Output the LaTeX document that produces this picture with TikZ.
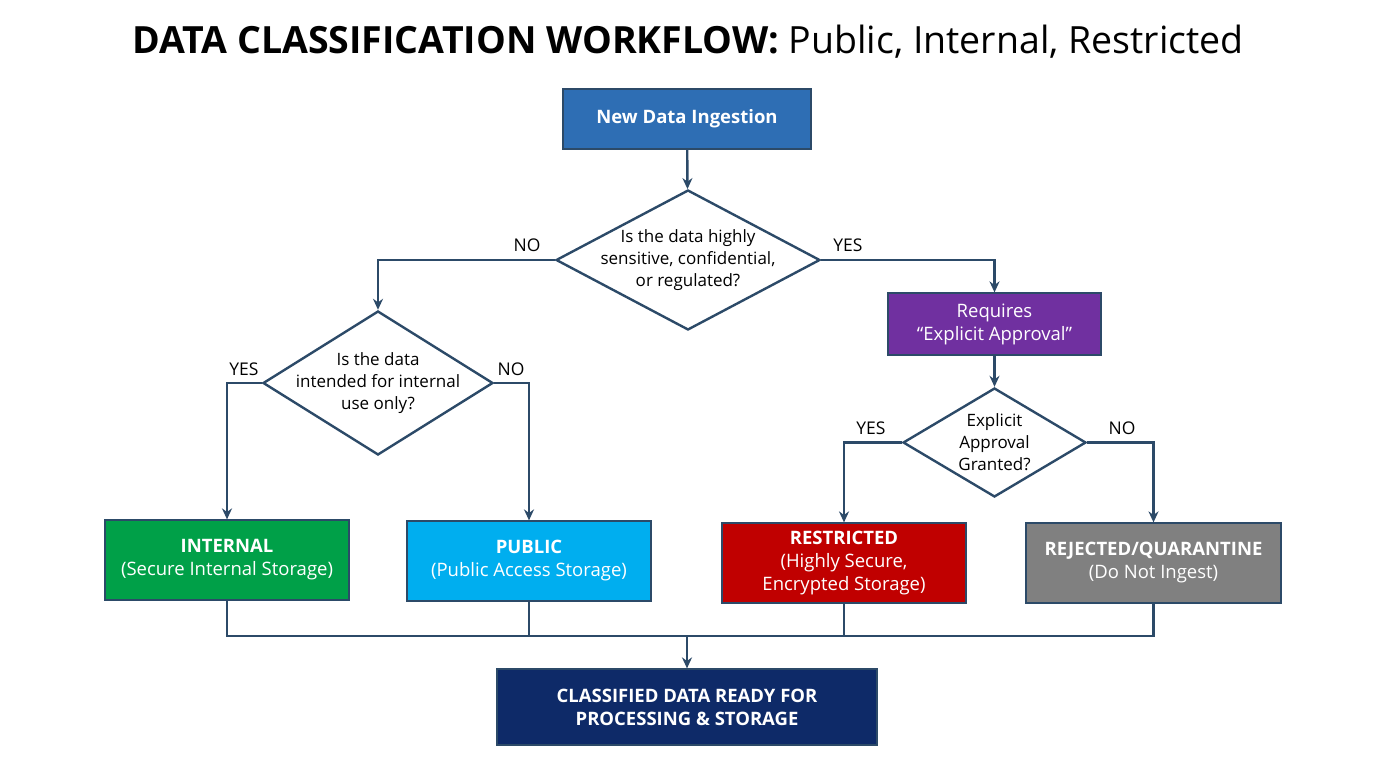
\documentclass[tikz,border=0pt]{standalone}
\usepackage{fontspec}
\setmainfont{Open Sans}
\usetikzlibrary{shapes.geometric,arrows.meta}
\definecolor{lineC}{RGB}{44,74,104}
\definecolor{blueA}{RGB}{46,110,180}
\definecolor{greenA}{RGB}{0,160,72}
\definecolor{cyanA}{RGB}{0,174,239}
\definecolor{purpA}{RGB}{112,48,160}
\definecolor{redA}{RGB}{192,0,0}
\definecolor{grayA}{RGB}{128,128,128}
\definecolor{navyA}{RGB}{14,42,104}
\begin{document}
\begin{tikzpicture}[x=1pt,y=-1pt,
  box/.style={draw=lineC,line width=1.2pt,text=white,align=center,inner sep=0pt,font=\fontsize{18.5}{23}\selectfont},
  dia/.style={diamond,draw=lineC,line width=2.4pt,fill=white,align=center,inner sep=-10pt,font=\fontsize{17}{22}\selectfont},
  conn/.style={draw=lineC,line width=2.4pt},
  arr/.style={conn,-{Stealth[length=11pt,width=10pt]}},
  lab/.style={font=\fontsize{17.5}{20}\selectfont,text=black}]
\useasboundingbox (0,0) rectangle (1376,768);
\node[font=\fontsize{37.5}{40}\selectfont] (title) at (688,42) {\textbf{DATA CLASSIFICATION WORKFLOW:} Public, Internal, Restricted};
\node[box,fill=blueA,minimum width=248pt,minimum height=60pt] (ing) at (687,119) {\textbf{New Data Ingestion}};
\node[dia,minimum width=264pt,minimum height=140pt,shape aspect=1.886] (d1) at (688,260) {Is the data highly\\sensitive, confidential,\\or regulated?};
\node[dia,minimum width=230pt,minimum height=144pt,shape aspect=1.597] (d2) at (378,383) {Is the data\\intended for internal\\use only?};
\node[box,fill=purpA,minimum width=213pt,minimum height=62pt] (req) at (994.5,324) {Requires\\“Explicit Approval”};
\node[dia,minimum width=183pt,minimum height=109pt,shape aspect=1.679] (d3) at (994.5,442.5) {Explicit\\Approval\\Granted?};
\node[box,fill=greenA,minimum width=244pt,minimum height=80pt] (int) at (227,560) {\textbf{INTERNAL}\\(Secure Internal Storage)};
\node[box,fill=cyanA,minimum width=244pt,minimum height=80pt] (pub) at (529,561) {\textbf{PUBLIC}\\(Public Access Storage)};
\node[box,fill=redA,minimum width=244pt,minimum height=80pt] (res) at (844,563) {\textbf{RESTRICTED}\\(Highly Secure,\\Encrypted Storage)};
\node[box,fill=grayA,minimum width=255pt,minimum height=80pt] (rej) at (1153.5,563) {\textbf{REJECTED/QUARANTINE}\\(Do Not Ingest)};
\node[box,fill=navyA,minimum width=380pt,minimum height=76pt] (fin) at (687,707) {\textbf{CLASSIFIED DATA READY FOR}\\\textbf{PROCESSING \& STORAGE}};
\node[lab] (no1) at (527,245) {NO};
\node[lab] (yes1) at (848,245) {YES};
\node[lab] (yes2) at (244,369) {YES};
\node[lab] (no2) at (511,369) {NO};
\node[lab] (yes3) at (871,428) {YES};
\node[lab] (no3) at (1122,428) {NO};
\coordinate (bus) at (687,636);
\draw[arr] (ing) -- (d1);
\draw[arr] (d1.west) -| (d2.north);
\draw[arr] (d1.east) -| (req.north);
\draw[arr] (req) -- (d3);
\draw[arr] (d2.west) -| (int.north);
\draw[arr] (d2.east) -| (pub.north);
\draw[arr] (d3.west) -| (res.north);
\draw[arr] (d3.east) -| (rej.north);
\draw[conn] (int.south) |- (bus);
\draw[conn] (rej.south) |- (bus);
\draw[conn] (pub.south) |- (bus);
\draw[conn] (res.south) |- (bus);
\draw[arr] (bus) -- (fin.north);
\end{tikzpicture}
\end{document}
